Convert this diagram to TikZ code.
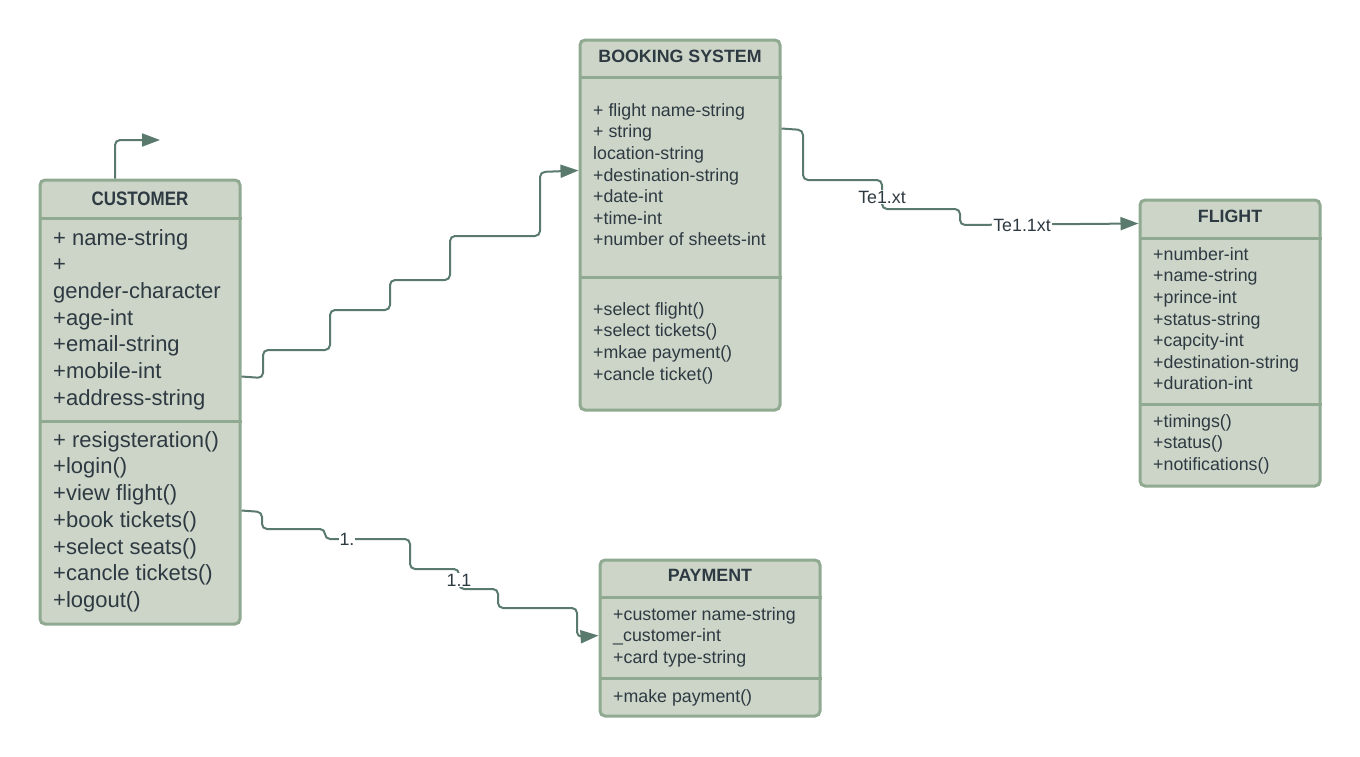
\documentclass[tikz,border=0pt]{standalone}
\usepackage{fontspec}
\setmainfont{Liberation Sans}
\newfontfamily\condfont{Liberation Sans}[FakeStretch=0.87]
\usetikzlibrary{arrows.meta,calc}

\definecolor{boxfill}{HTML}{CDD5C9}
\definecolor{boxline}{HTML}{8FAA90}
\definecolor{wire}{HTML}{5A7A6E}
\definecolor{ink}{HTML}{2E3A42}

\tikzset{
	classbox/.style={draw=boxline, fill=boxfill, line width=3pt, rounded corners=5pt, inner sep=0pt},
	divider/.style={draw=boxline, line width=3pt},
	classtitle/.style={text=ink, inner sep=0pt, font=\fontsize{17.8}{21.6}\selectfont\bfseries},
	members/.style={text=ink, align=left, anchor=north west, inner sep=0pt, font=\fontsize{17.8}{21.6}\selectfont},
	bigmembers/.style={members, font=\fontsize{22}{26.7}\selectfont},
	link/.style={draw=wire, line width=2pt, rounded corners=5pt, -{Triangle[length=18pt,width=13pt]}},
	linklabel/.style={text=ink, fill=white, inner sep=1pt, font=\fontsize{17.8}{21.6}\selectfont},
}

\begin{document}
\begin{tikzpicture}[x=1pt, y=-1pt]
			%%%%% START %%%%%
			\useasboundingbox (0,0) rectangle (1360,756);
			
			% customer
			\node[classbox, minimum width=200pt, minimum height=444pt] (customer) at (140,402) {};
			\draw[divider] (customer.west |- 0,218) -- (customer.east |- 0,218);
			\draw[divider] (customer.west |- 0,421) -- (customer.east |- 0,421);
			\node[classtitle, font=\condfont\bfseries\fontsize{19.5}{23}\selectfont] (customertitle) at (140,199) {CUSTOMER};
			\node[bigmembers] (customerattrs) at (53,226.3) {\strut+ name-string\\+\\gender-character\\+age-int\\+email-string\\+mobile-int\\+address-string};
			\node[bigmembers] (customerops) at (53,428.3) {\strut+ resigsteration()\\+login()\\+view flight()\\+book tickets()\\+select seats()\\+cancle tickets()\\+logout()};
			
			% booking system
			\node[classbox, minimum width=200pt, minimum height=370pt] (booking) at (680,225) {};
			\draw[divider] (booking.west |- 0,77) -- (booking.east |- 0,77);
			\draw[divider] (booking.west |- 0,277) -- (booking.east |- 0,277);
			\node[classtitle] (bookingtitle) at (680,56.3) {BOOKING SYSTEM};
			\node[members] (bookingattrs) at (593,100.9) {\strut+ flight name-string\\+ string\\location-string\\+destination-string\\+date-int\\+time-int\\+number of sheets-int};
			\node[members] (bookingops) at (593,299.9) {\strut+select flight()\\+select tickets()\\+mkae payment()\\+cancle ticket()};
			
			% flight
			\node[classbox, minimum width=180pt, minimum height=286pt] (flight) at (1230,343) {};
			\draw[divider] (flight.west |- 0,238) -- (flight.east |- 0,238);
			\draw[divider] (flight.west |- 0,404) -- (flight.east |- 0,404);
			\node[classtitle] (flighttitle) at (1230,216.3) {FLIGHT};
			\node[members] (flightattrs) at (1153,244.9) {\strut+number-int\\+name-string\\+prince-int\\+status-string\\+capcity-int\\+destination-string\\+duration-int};
			\node[members] (flightops) at (1153,411.9) {\strut+timings()\\+status()\\+notifications()};
			
			% payment
			\node[classbox, minimum width=220pt, minimum height=156pt] (payment) at (710,638) {};
			\draw[divider] (payment.west |- 0,597) -- (payment.east |- 0,597);
			\draw[divider] (payment.west |- 0,678) -- (payment.east |- 0,678);
			\node[classtitle] (paymenttitle) at (710,575.3) {PAYMENT};
			\node[members] (paymentattrs) at (613,604.9) {\strut+customer name-string\\\_customer-int\\+card type-string};
			\node[members] (paymentops) at (613,686.9) {\strut+make payment()};
			
			% connectors
			\coordinate (selfend) at (160,140);
			\draw[link] ($(customer.north)+(-25,0)$) |- (selfend);
			
			\draw[link] ($(customer.north east)+(0,198)$) -- (263,378) -- (263,350) -- (330,350) -- (330,310) -- (390,310) -- (390,280) -- (450,280) -- (450,236) -- (540,236) -- (540,172) -- ($(booking.north west)+(0,132)$);
			
			\draw[link] ($(booking.north east)+(0,90)$) -- (803,130) -- (803,180) -- (882,180) -- (882,209) -- (960,209) -- (960,225) -- ($(flight.north west)+(0,25)$);
			\node[linklabel] (te1) at (882,197) {Te1.xt};
			\node[linklabel] (te11) at (1022,225) {Te1.1xt};
			
			\draw[link] ($(customer.north east)+(0,332)$) -- (262,512) -- (262,529) -- (325,529) -- (325,539) -- (410,539) -- (410,569) -- (459,569) -- (459,589) -- (498,589) -- (498,608) -- (577,608) -- (577,637) -- ($(payment.north west)+(0,77)$);
			\node[linklabel] (one) at (347,539) {1.};
			\node[linklabel] (oneone) at (459,580) {1.1};
			
			%%%%% END %%%%%
\end{tikzpicture}
\end{document}
